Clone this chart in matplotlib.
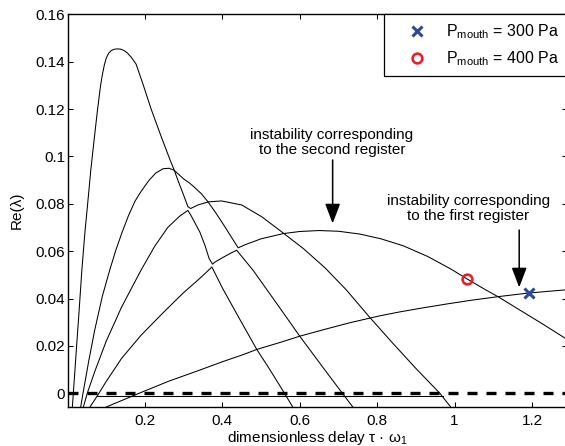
import matplotlib
matplotlib.use('Agg')
import matplotlib.pyplot as plt

plt.rcParams['font.family'] = ['Liberation Sans', 'DejaVu Sans']
plt.rcParams['mathtext.default'] = 'regular'
plt.rcParams['font.size'] = 11

# ---- data ----
# branch with the tall peak, continuing into the 0.08 hump
branch_a_x = [0.0125, 0.015, 0.022, 0.030, 0.037, 0.045, 0.053, 0.060, 0.068, 0.077, 0.085, 0.090,
              0.095, 0.100, 0.106, 0.113, 0.120, 0.128, 0.137, 0.146, 0.155, 0.165, 0.177, 0.195,
              0.216, 0.239, 0.251, 0.265, 0.275, 0.285, 0.298, 0.311, 0.318, 0.337, 0.364, 0.398,
              0.45, 0.502, 0.557, 0.61, 0.665, 0.72, 0.78, 0.84, 0.90, 0.962, 0.99]
branch_a_y = [-0.0058, 0.0, 0.0165, 0.035, 0.052, 0.068, 0.0817, 0.094, 0.106, 0.119, 0.1295, 0.1345,
              0.1385, 0.1415, 0.1435, 0.1447, 0.1452, 0.1454, 0.1453, 0.1447, 0.1436, 0.1418, 0.1390, 0.1305,
              0.120, 0.1097, 0.1045, 0.0985, 0.0945, 0.090, 0.0845, 0.0788, 0.0780, 0.0795, 0.0808, 0.0812,
              0.0795, 0.0745, 0.0677, 0.0610, 0.0530, 0.0437, 0.0322, 0.0212, 0.0105, 0.0, -0.0058]

# branch peaking at 0.095, continuing into the "second register" hump
branch_b_x = [0.034, 0.040, 0.055, 0.070, 0.090, 0.109, 0.125, 0.140, 0.157, 0.174, 0.190, 0.210,
              0.228, 0.247, 0.262, 0.275, 0.290, 0.300, 0.315, 0.329, 0.346, 0.364, 0.385, 0.407,
              0.425, 0.441, 0.46, 0.50, 0.557, 0.60, 0.65, 0.70, 0.756, 0.81, 0.867, 0.93, 0.99,
              1.033, 1.08, 1.113, 1.17, 1.23, 1.29]
branch_b_y = [-0.0058, 0.0, 0.0138, 0.0265, 0.0410, 0.0520, 0.0605, 0.0675, 0.0748, 0.0810, 0.0852, 0.0898,
              0.0930, 0.0948, 0.0950, 0.0942, 0.0920, 0.0905, 0.0888, 0.0868, 0.0842, 0.0806, 0.0757, 0.0702,
              0.0655, 0.0614, 0.0628, 0.0652, 0.0674, 0.0683, 0.0687, 0.0684, 0.0672, 0.0652, 0.0623, 0.0578, 0.0525,
              0.0482, 0.0437, 0.0407, 0.0350, 0.0290, 0.0228]

# third branch
branch_c_x = [0.041, 0.051, 0.070, 0.100, 0.140, 0.190, 0.225, 0.259, 0.290, 0.311, 0.320, 0.329,
              0.342, 0.355, 0.366, 0.375, 0.38, 0.40, 0.42, 0.437, 0.45, 0.48, 0.54, 0.60, 0.665,
              0.70, 0.737]
branch_c_y = [-0.0058, 0.0, 0.009, 0.022, 0.0365, 0.052, 0.0620, 0.0700, 0.0748, 0.0772, 0.0748, 0.0720,
              0.0680, 0.0625, 0.0568, 0.0545, 0.0553, 0.0572, 0.0590, 0.0604, 0.0578, 0.0518, 0.0380, 0.0241, 0.0098,
              0.0022, -0.0058]

# fourth branch
branch_d_x = [0.058, 0.077, 0.10, 0.14, 0.19, 0.25, 0.30, 0.337, 0.355, 0.373, 0.40, 0.44, 0.489,
              0.52, 0.55, 0.582]
branch_d_y = [-0.0058, -0.0011, 0.0050, 0.0148, 0.0245, 0.0345, 0.0425, 0.0478, 0.0505, 0.0533, 0.0445, 0.0327, 0.0185,
              0.0107, 0.0028, -0.0058]

# "first register" branch
branch_e_x = [0.100, 0.185, 0.26, 0.342, 0.40, 0.45, 0.489, 0.55, 0.60, 0.665, 0.73, 0.807, 0.86,
              0.92, 0.98, 1.04, 1.113, 1.19, 1.29]
branch_e_y = [-0.0058, 0.0, 0.0050, 0.0098, 0.0133, 0.0161, 0.0185, 0.0215, 0.0241, 0.0270, 0.0298, 0.0327, 0.0344,
              0.0361, 0.0377, 0.0392, 0.0408, 0.0423, 0.0437]

# flat branch just under zero
flat_x = [0.077, 0.97]
flat_y = [-0.0011, -0.0011]

# operating points
p300 = (1.193, 0.0422)
p400 = (1.033, 0.0481)

fig = plt.figure(figsize=(5.65, 4.46), dpi=100)
ax = fig.add_axes([68.3 / 565, 39 / 446, 498.5 / 565, 392.7 / 446])

for bx, by in [(branch_a_x, branch_a_y), (branch_b_x, branch_b_y), (branch_c_x, branch_c_y),
               (branch_d_x, branch_d_y), (branch_e_x, branch_e_y), (flat_x, flat_y)]:
    ax.plot(bx, by, color='k', lw=0.75, solid_joinstyle='round')

# zero line
ax.axhline(0, color='k', lw=2.4, linestyle=(0, (3.0, 2.7)))

ax.plot(*p300, 'x', color='#2b4a9c', ms=7, mew=2.2, label=r'P$_{mouth}$ = 300 Pa', zorder=5)
ax.plot(*p400, 'o', color='#e8202a', mfc='none', ms=7, mew=1.9, label=r'P$_{mouth}$ = 400 Pa', zorder=5)

ax.set_xlim(0.002, 1.29)
ax.set_ylim(-0.0058, 0.16)
ax.set_xticks([0.2, 0.4, 0.6, 0.8, 1.0, 1.2])
ax.set_xticklabels(['0.2', '0.4', '0.6', '0.8', '1', '1.2'])
yt = [0, 0.02, 0.04, 0.06, 0.08, 0.1, 0.12, 0.14, 0.16]
ax.set_yticks(yt)
ax.set_yticklabels(['0', '0.02', '0.04', '0.06', '0.08', '0.1', '0.12', '0.14', '0.16'])
ax.tick_params(direction='in', top=True, right=True, length=3.3, width=0.75)
ax.tick_params(axis='x', pad=5)
ax.tick_params(axis='y', pad=2.3)
for s in ax.spines.values():
    s.set_linewidth(1.0)

ax.set_xlabel('dimensionless delay τ · ω$_1$', labelpad=1)
ax.set_ylabel('Re(λ)')
ax.yaxis.set_label_coords(-0.089, 0.5)

# annotations
ax.text(0.683, 0.106, 'instability corresponding\nto the second register',
        ha='center', va='center', linespacing=1.1)
ax.annotate('', xy=(0.685, 0.0717), xytext=(0.685, 0.0985),
            arrowprops=dict(arrowstyle='-|>,head_length=1.1,head_width=0.42', color='k', lw=1.1,
                            shrinkA=0, shrinkB=0))
ax.text(1.036, 0.0779, 'instability corresponding\nto the first register',
        ha='center', va='center', linespacing=1.1)
ax.annotate('', xy=(1.167, 0.0447), xytext=(1.167, 0.0689),
            arrowprops=dict(arrowstyle='-|>,head_length=1.1,head_width=0.42', color='k', lw=1.1,
                            shrinkA=0, shrinkB=0))

leg = ax.legend(loc='upper left', bbox_to_anchor=(384.3 / 565, 1 - 14.3 / 446),
                bbox_transform=fig.transFigure, borderaxespad=0, fancybox=False,
                framealpha=1, edgecolor='k', fontsize=11.5, borderpad=0.5, handlelength=3.1,
                handletextpad=0.28, labelspacing=0.54)
leg.get_frame().set_linewidth(0.9)

plt.savefig('out.png', dpi=100)
